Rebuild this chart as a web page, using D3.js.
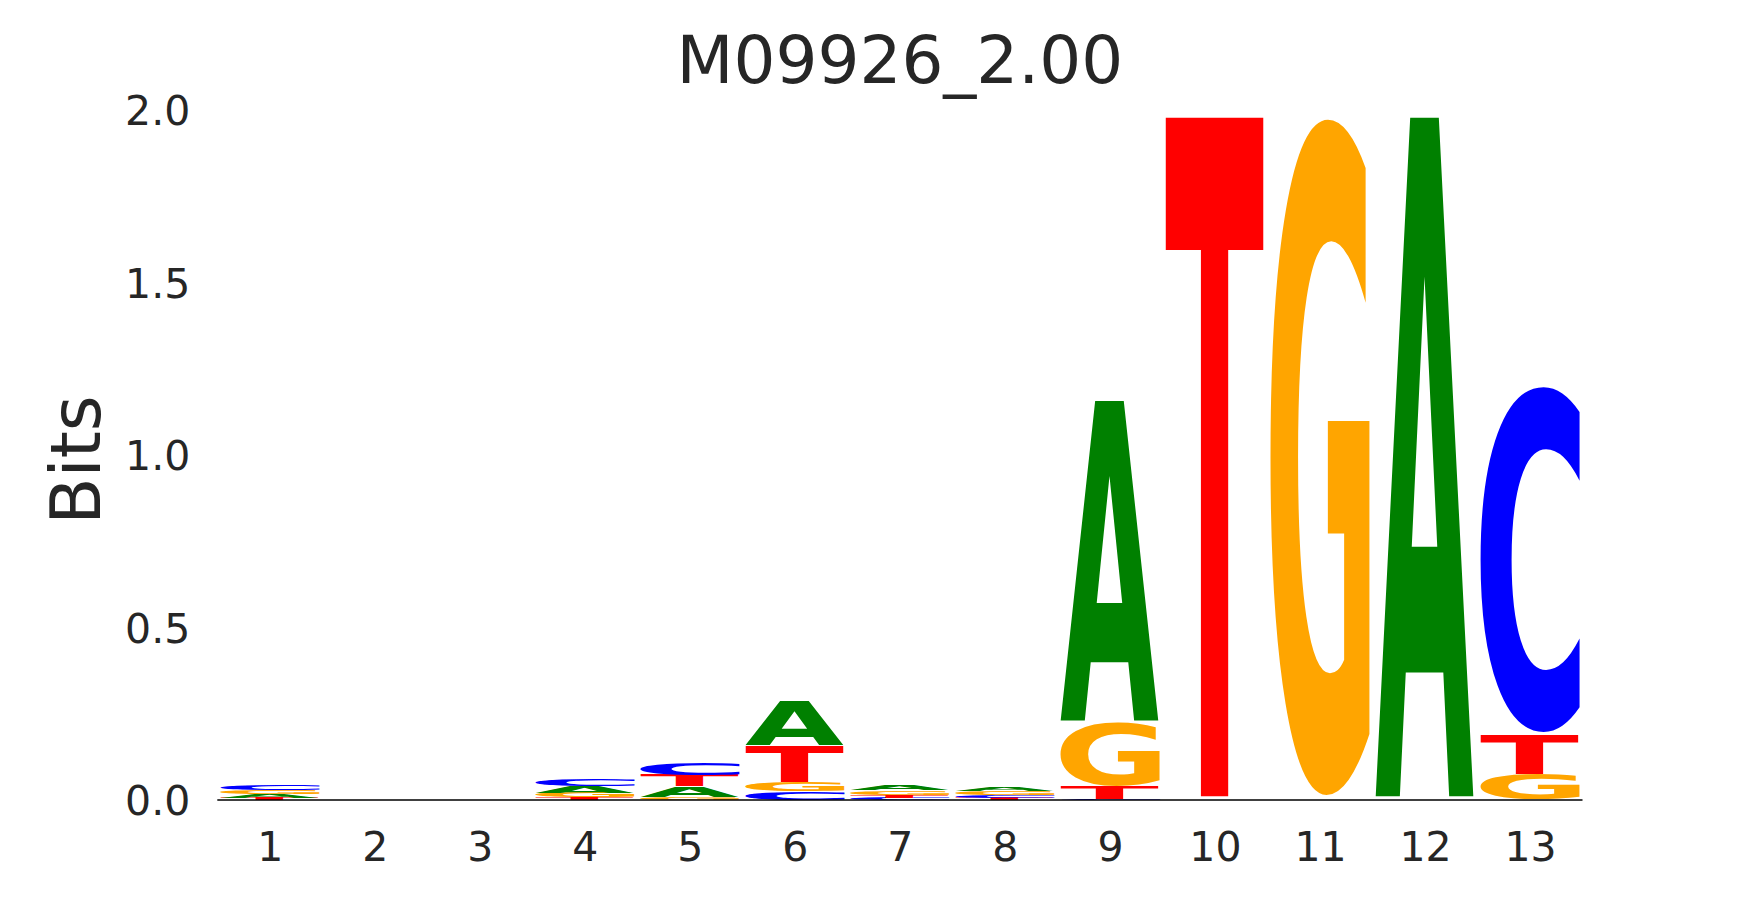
<!DOCTYPE html>
<html>
<head>
<meta charset="utf-8">
<script src="https://cdn.jsdelivr.net/npm/d3@7"></script>
<style>
  html, body { margin: 0; padding: 0; background: #ffffff; }
  svg { display: block; }
</style>
</head>
<body>
<svg id="chart" width="1755" height="900"></svg>
<script>
// ---- data (bits per letter at each position) ----
const positions = [1, 2, 3, 4, 5, 6, 7, 8, 9, 10, 11, 12, 13];
const valuesA = [0.011, 0, 0, 0.019, 0.032, 0.131, 0.015, 0.012, 0.940, 0.001, 0.001, 1.997, 0.001];
const valuesC = [0.016, 0, 0, 0.021, 0.034, 0.024, 0.006, 0.008, 0.002, 0.001, 0.001, 0.001, 1.020];
const valuesG = [0.012, 0, 0, 0.0145, 0.008, 0.027, 0.013, 0.010, 0.187, 0.001, 1.997, 0.001, 0.075];
const valuesT = [0.007, 0, 0, 0.007, 0.033, 0.107, 0.009, 0.007, 0.038, 1.997, 0.001, 0.001, 0.115];
const yTicks = [0.0, 0.5, 1.0, 1.5, 2.0];
const title = "M09926_2.00";
const yLabel = "Bits";

const letters = ["A", "C", "G", "T"];
const series = { A: valuesA, C: valuesC, G: valuesG, T: valuesT };
const colors = { A: "#008000", C: "#0000ff", G: "#ffa500", T: "#ff0000" };

// ---- layout ----
const x = d3.scaleLinear().domain([0.5, 13.5]).range([217.3, 1582.5]);
const y = d3.scaleLinear().domain([0, 2]).range([800, 110]);
const letterWidth = 0.95;
const vpad = 0.004;           // fraction of each glyph's height left empty above and below
const textColor = "#262626";
const FONT = "DejaVu Sans";

const svg = d3.select("#chart");

// glyph ink metrics via canvas
const REF = 400;
const ctx = document.createElement("canvas").getContext("2d");
ctx.font = `bold ${REF}px "${FONT}"`;
const metrics = {};
letters.forEach(l => {
  const m = ctx.measureText(l);
  metrics[l] = {
    left: m.actualBoundingBoxLeft,
    right: m.actualBoundingBoxRight,
    asc: m.actualBoundingBoxAscent,
    desc: m.actualBoundingBoxDescent
  };
});

// stacked glyphs, smallest at the bottom
const glyphs = [];
positions.forEach((p, i) => {
  const stack = letters.map(l => ({ letter: l, value: series[l][i] }))
    .filter(d => d.value > 0)
    .sort((a, b) => a.value - b.value);
  let floor = 0;
  stack.forEach(d => {
    const pad = d.value * vpad;
    glyphs.push({ pos: p, letter: d.letter, y0: floor + pad, y1: floor + d.value - pad });
    floor += d.value;
  });
});

const gLogo = svg.append("g");
gLogo.selectAll("text.glyph")
  .data(glyphs)
  .enter()
  .append("text")
  .attr("class", "glyph")
  .attr("font-family", FONT)
  .attr("font-weight", "bold")
  .attr("font-size", REF)
  .attr("fill", d => colors[d.letter])
  .attr("transform", d => {
    const m = metrics[d.letter];
    const bw = x(d.pos + letterWidth / 2) - x(d.pos - letterWidth / 2);
    const bh = y(d.y0) - y(d.y1);
    const sx = bw / (m.left + m.right);
    const sy = bh / (m.asc + m.desc);
    return `translate(${x(d.pos - letterWidth / 2)},${y(d.y1)}) scale(${sx},${sy}) translate(${m.left},${m.asc})`;
  })
  .text(d => d.letter);

// baseline
svg.append("line")
  .attr("x1", x(0.5)).attr("x2", x(13.5))
  .attr("y1", y(0)).attr("y2", y(0))
  .attr("stroke", "#000").attr("stroke-width", 1.3);

// y axis (labels only)
const yAxis = d3.axisLeft(y).tickValues(yTicks).tickFormat(d3.format(".1f")).tickSize(0).tickPadding(27);
const gy = svg.append("g").attr("transform", `translate(${x(0.5)},0)`).call(yAxis);
gy.select(".domain").remove();
gy.selectAll("text")
  .attr("font-family", FONT).attr("font-size", 41).attr("fill", textColor)
  .attr("dy", "0.36em");

// x axis (labels only)
const xAxis = d3.axisBottom(x).tickValues(positions).tickFormat(d3.format("d")).tickSize(0).tickPadding(46);
const gx = svg.append("g").attr("transform", `translate(0,${y(0)})`).call(xAxis);
gx.select(".domain").remove();
gx.selectAll("text")
  .attr("font-family", FONT).attr("font-size", 41).attr("fill", textColor)
  .attr("dy", "0.36em");

// title
svg.append("text")
  .attr("x", (x(0.5) + x(13.5)) / 2).attr("y", 83)
  .attr("text-anchor", "middle")
  .attr("font-family", FONT).attr("font-size", 66).attr("fill", textColor)
  .text(title);

// y label
svg.append("text")
  .attr("transform", `translate(100,460) rotate(-90)`)
  .attr("text-anchor", "middle")
  .attr("font-family", FONT).attr("font-size", 69).attr("fill", textColor)
  .text(yLabel);
</script>
</body>
</html>
